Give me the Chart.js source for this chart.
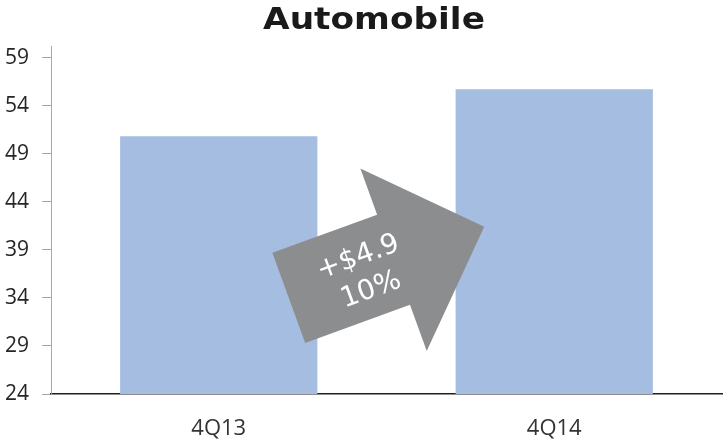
<!DOCTYPE html>
<html>
<head>
<meta charset="utf-8">
<script src="https://cdn.jsdelivr.net/npm/chart.js@4/dist/chart.umd.min.js"></script>
<style>
  html, body { margin: 0; padding: 0; background: #ffffff; }
  #wrap { width: 724px; height: 441px; }
</style>
</head>
<body>
<div id="wrap"><canvas id="c" width="724" height="441"></canvas></div>
<script>
// Quarterly automobile revenue ($)
const categories = ['4Q13', '4Q14'];
const revenue = [50.8, 55.7];
const yTicks = [24, 29, 34, 39, 44, 49, 54, 59];
const chartTitle = 'Automobile';

const Y_MIN = 24;
const Y_MAX = 60.2;
const ARROW_LEVEL = 37.7;   // value level at which the change arrow sits

// Change between the two quarters, shown on the arrow
const delta = revenue[1] - revenue[0];
const deltaText = '+$' + delta.toFixed(1);
const pctText = Math.round(delta / revenue[0] * 100) + '%';

// Title drawn slightly widened
const titlePlugin = {
  id: 'wideTitle',
  afterDraw(chart) {
    const ctx = chart.ctx;
    ctx.save();
    ctx.translate(374, 29);
    ctx.scale(1.108, 1);
    ctx.font = 'bold 31px "DejaVu Sans"';
    ctx.fillStyle = '#1a1a1a';
    ctx.textAlign = 'center';
    ctx.textBaseline = 'alphabetic';
    ctx.fillText(chartTitle, 0, 0);
    ctx.restore();
  }
};

// Grey tilted arrow carrying the change labels
const arrowPlugin = {
  id: 'changeArrow',
  afterDatasetsDraw(chart) {
    const ctx = chart.ctx;
    const xs = chart.scales.x, ys = chart.scales.y;
    const cx = (xs.getPixelForValue(0) + xs.getPixelForValue(1)) / 2;
    const cy = ys.getPixelForValue(ARROW_LEVEL);
    const tail = -104, neck = 7.5, tip = 104, shaftH = 48, headH = 97;
    ctx.save();
    ctx.translate(cx, cy);
    ctx.rotate(-20 * Math.PI / 180);
    ctx.beginPath();
    ctx.moveTo(tail, -shaftH);
    ctx.lineTo(neck, -shaftH);
    ctx.lineTo(neck, -headH);
    ctx.lineTo(tip, 0);
    ctx.lineTo(neck, headH);
    ctx.lineTo(neck, shaftH);
    ctx.lineTo(tail, shaftH);
    ctx.closePath();
    ctx.fillStyle = '#8c8d8f';
    ctx.fill();
    ctx.fillStyle = '#ffffff';
    ctx.font = '28px "DejaVu Sans"';
    ctx.textAlign = 'center';
    ctx.textBaseline = 'middle';
    ctx.fillText(deltaText, -25, -14);
    ctx.fillText(pctText, -24, 21);
    ctx.restore();
  }
};

new Chart(document.getElementById('c'), {
  type: 'bar',
  data: {
    labels: categories,
    datasets: [{
      data: revenue,
      backgroundColor: '#a5bde1',
      borderWidth: 0,
      categoryPercentage: 1.0,
      barPercentage: 0.588
    }]
  },
  options: {
    responsive: false,
    animation: false,
    events: [],
    layout: { padding: { top: 46, right: 2, left: 0, bottom: 0 } },
    plugins: {
      legend: { display: false },
      title: { display: false },
      tooltip: { enabled: false }
    },
    scales: {
      x: {
        z: 1,
        grid: { display: false, drawTicks: false },
        border: { display: true, color: '#1f1f1f', width: 1.5 },
        ticks: {
          padding: 22,
          color: '#333333',
          font: { family: '"Open Sans"', size: 22 }
        },
        afterFit(scale) { scale.height = 47; }
      },
      y: {
        min: Y_MIN,
        max: Y_MAX,
        grid: { drawOnChartArea: false, drawTicks: true, tickLength: 9, color: '#a6a6a6' },
        border: { display: true, color: '#a6a6a6', width: 1 },
        ticks: {
          padding: 13,
          color: '#262626',
          font: { family: '"Open Sans"', size: 21 }
        },
        afterBuildTicks(scale) { scale.ticks = yTicks.map(v => ({ value: v })); },
        afterFit(scale) { scale.width = 51; }
      }
    }
  },
  plugins: [titlePlugin, arrowPlugin]
});
</script>
</body>
</html>
